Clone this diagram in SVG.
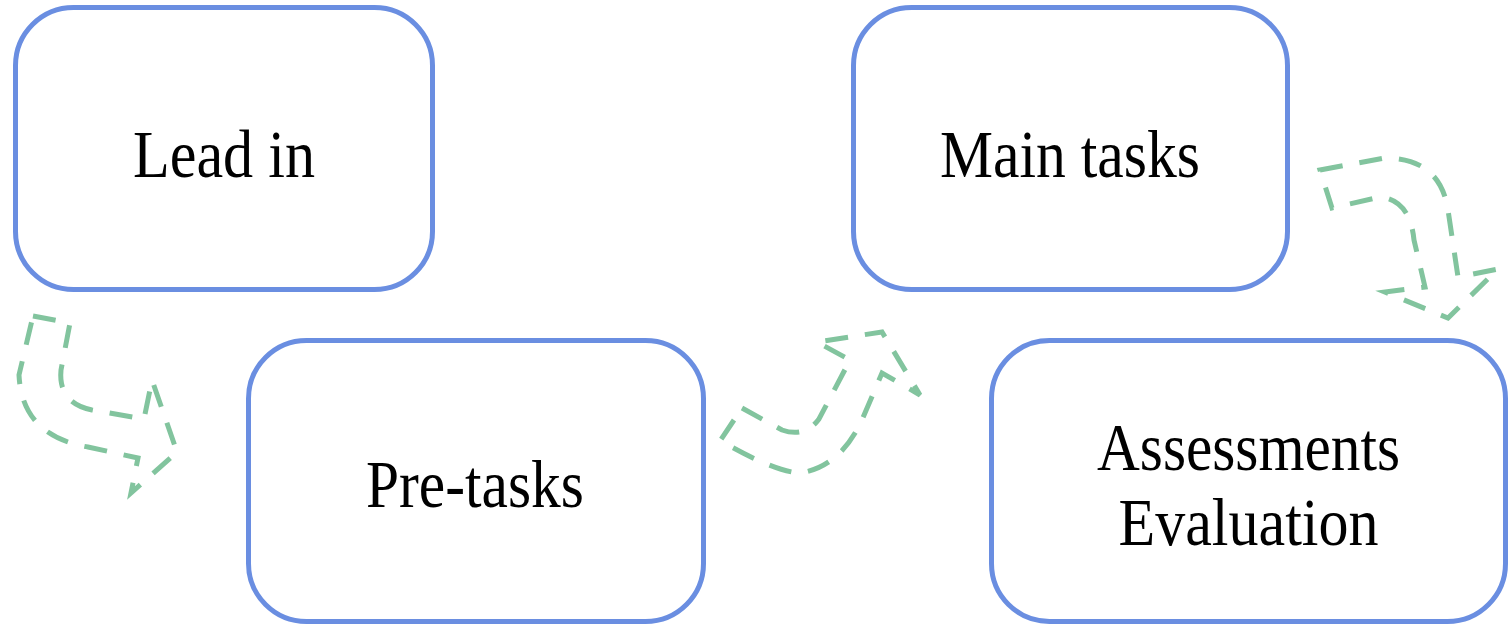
<svg xmlns="http://www.w3.org/2000/svg" width="1509" height="624" viewBox="0 0 1509 624">
<style>
.box{fill:#fff;stroke:#6A8EE1;stroke-width:5}
.lbl{font-family:"Liberation Serif","Times New Roman",serif;font-size:68px;fill:#000;text-anchor:middle}
.arr{fill:none;stroke:#82C49E;stroke-width:5;stroke-dasharray:23 17;stroke-linejoin:miter}
</style>
<rect width="1509" height="624" fill="#fff"/>
<g id="connectors">
<path class="arr" d="M33,316 L70,323 L61,370 Q58,403 92,410 L144,419 L152,380 L177,452 L131,493 L138,458 L88,447 Q22,436 19,375 Z"/>
<path class="arr" d="M742,408 L782,430 Q805,438 819,419 L850,360 L817,342 L882,332 L920,395 L882,373 L862,420 Q840,467 800,473 Q780,472 743,453 L720,441 Z"/>
<path class="arr" d="M1320,170 L1385,158 Q1440,158 1448,210 L1458,277 L1498,269 L1448,318 L1385,292 L1425,287 L1414,240 Q1410,200 1380,197 L1332,208 Z"/>
</g>
<g id="lead-in">
<rect class="box" x="15.5" y="7.5" width="417" height="282" rx="58"/>
<text class="lbl" x="224" y="177" textLength="182" lengthAdjust="spacingAndGlyphs">Lead in</text>
</g>
<g id="pre-tasks">
<rect class="box" x="248.5" y="340.5" width="455" height="281" rx="58"/>
<text class="lbl" x="475" y="507" textLength="218" lengthAdjust="spacingAndGlyphs">Pre-tasks</text>
</g>
<g id="main-tasks">
<rect class="box" x="853.5" y="7.5" width="434" height="282" rx="58"/>
<text class="lbl" x="1070" y="177" textLength="260" lengthAdjust="spacingAndGlyphs">Main tasks</text>
</g>
<g id="assessments">
<rect class="box" x="991.5" y="340.5" width="514" height="281" rx="58"/>
<text class="lbl" x="1248.5" y="470" textLength="303" lengthAdjust="spacingAndGlyphs">Assessments</text>
<text class="lbl" x="1248.5" y="545" textLength="260" lengthAdjust="spacingAndGlyphs">Evaluation</text>
</g>
</svg>
